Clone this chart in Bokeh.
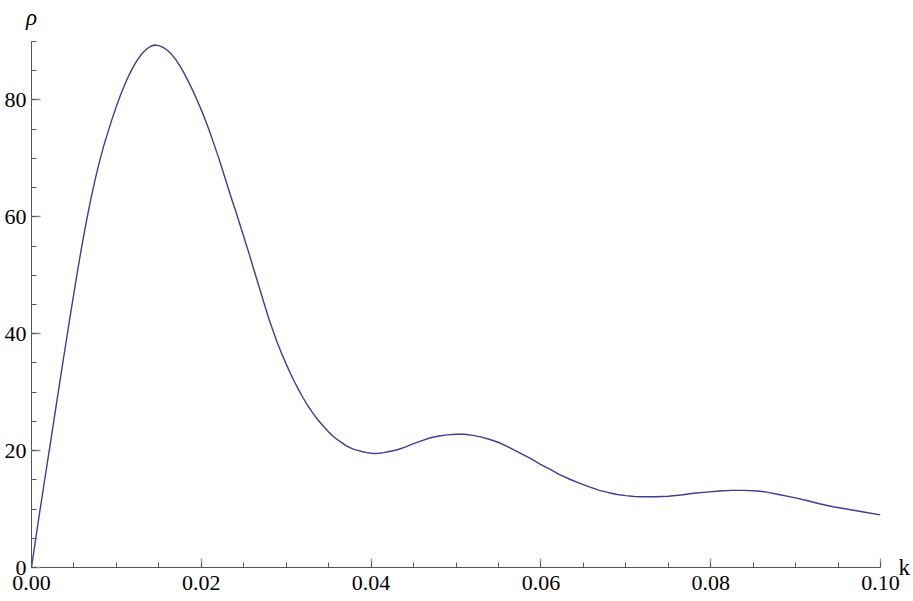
from bokeh.plotting import figure
from bokeh.models import FixedTicker, Range1d, LinearAxis, PrintfTickFormatter
from bokeh.embed import file_html
from bokeh.resources import INLINE

# data
k_vals = [0.0000, 0.0005, 0.0010, 0.0015, 0.0020, 0.0025, 0.0030, 0.0035, 0.0040, 0.0045,
          0.0050, 0.0055, 0.0060, 0.0065, 0.0070, 0.0075, 0.0080, 0.0085, 0.0090, 0.0095,
          0.0100, 0.0105, 0.0110, 0.0115, 0.0120, 0.0125, 0.0130, 0.0135, 0.0140, 0.0145,
          0.0150, 0.0155, 0.0160, 0.0165, 0.0170, 0.0175, 0.0180, 0.0185, 0.0190, 0.0195,
          0.0200, 0.0205, 0.0210, 0.0215, 0.0220, 0.0225, 0.0230, 0.0235, 0.0240, 0.0245,
          0.0250, 0.0255, 0.0260, 0.0265, 0.0270, 0.0275, 0.0280, 0.0285, 0.0290, 0.0295,
          0.0300, 0.0305, 0.0310, 0.0315, 0.0320, 0.0325, 0.0330, 0.0335, 0.0340, 0.0345,
          0.0350, 0.0355, 0.0360, 0.0365, 0.0370, 0.0375, 0.0380, 0.0385, 0.0390, 0.0395,
          0.0400, 0.0405, 0.0410, 0.0415, 0.0420, 0.0430, 0.0440, 0.0450, 0.0460,
          0.0470, 0.0480, 0.0490, 0.0500, 0.0510, 0.0520, 0.0530, 0.0540, 0.0552, 0.0563,
          0.0575, 0.0587, 0.0599, 0.0611, 0.0622, 0.0634, 0.0646, 0.0657, 0.0669, 0.0680,
          0.0690, 0.0700, 0.0710, 0.0720, 0.0735, 0.0750, 0.0765, 0.0780, 0.0795, 0.0810,
          0.0825, 0.0840, 0.0855, 0.0866, 0.0880, 0.0897, 0.0912, 0.0928, 0.0944, 0.0960,
          0.0980, 0.1000]
rho_vals = [0.0, 5.0, 9.8, 14.5, 19.2, 23.9, 28.6, 33.3, 37.9, 42.5,
            47.0, 51.4, 55.6, 59.5, 63.1, 66.4, 69.4, 72.1, 74.5, 76.8,
            78.9, 80.9, 82.7, 84.3, 85.7, 86.9, 87.9, 88.65, 89.15, 89.4,
            89.3, 89.0, 88.5, 87.8, 86.9, 85.8, 84.5, 83.1, 81.6, 80.0,
            78.3, 76.5, 74.5, 72.4, 70.3, 68.0, 65.7, 63.4, 61.2, 58.9,
            56.6, 54.3, 51.9, 49.5, 47.1, 44.7, 42.4, 40.3, 38.3, 36.5,
            34.8, 33.2, 31.7, 30.3, 29.0, 27.8, 26.7, 25.7, 24.8, 24.0,
            23.2, 22.5, 21.9, 21.4, 20.9, 20.5, 20.2, 20.0, 19.8, 19.65,
            19.55, 19.5, 19.55, 19.65, 19.8, 20.1, 20.6, 21.2, 21.7,
            22.2, 22.5, 22.7, 22.8, 22.8, 22.6, 22.3, 21.9, 21.3, 20.5,
            19.6, 18.7, 17.7, 16.8, 15.9, 15.1, 14.4, 13.8, 13.2, 12.8,
            12.5, 12.3, 12.15, 12.1, 12.1, 12.2, 12.4, 12.7, 12.9, 13.1,
            13.2, 13.2, 13.1, 12.9, 12.5, 12.0, 11.5, 10.9, 10.4, 10.0,
            9.5, 9.0]

x_major = [0.0, 0.02, 0.04, 0.06, 0.08, 0.10]
x_minor = [i * 0.005 for i in range(21)]
y_major = [0, 20, 40, 60, 80]
y_minor = [i * 5 for i in range(19)]
x_bounds = (0.0, 0.10)
y_bounds = (0.0, 90.0)

x_label = "k"
y_label = "ρ"

FONT = "Times New Roman"
AXIS_COLOR = "#555555"
MAJOR_TICK_COLOR = "#8f8f8f"
LINE_COLOR = "#3d3d99"

W, H = 913, 601

p = figure(width=W, height=H, output_backend="svg", toolbar_location=None,
           x_range=Range1d(*x_bounds), y_range=Range1d(*y_bounds),
           min_border_left=31, min_border_right=32, min_border_top=41,
           min_border_bottom=34)
p.outline_line_color = None
p.grid.visible = False
p.background_fill_color = "white"
p.border_fill_color = "white"

p.line(k_vals, rho_vals, line_color=LINE_COLOR, line_width=1.4)

for ax in (p.xaxis[0], p.yaxis[0]):
    ax.axis_line_color = AXIS_COLOR
    ax.axis_line_width = 1
    ax.major_tick_in = 9
    ax.major_tick_out = 0
    ax.minor_tick_in = 5
    ax.minor_tick_out = 0
    ax.major_tick_line_color = MAJOR_TICK_COLOR
    ax.major_tick_line_width = 1.3
    ax.minor_tick_line_color = AXIS_COLOR
    ax.minor_tick_line_width = 1
    ax.major_label_text_font = FONT
    ax.major_label_text_font_size = "22px"
    ax.major_label_text_color = "black"

p.xaxis[0].ticker = FixedTicker(ticks=x_major, minor_ticks=x_minor)
p.xaxis[0].formatter = PrintfTickFormatter(format="%.2f")
p.xaxis[0].major_label_standoff = 8
p.yaxis[0].ticker = FixedTicker(ticks=y_major, minor_ticks=y_minor)
p.yaxis[0].formatter = PrintfTickFormatter(format="%d")
p.yaxis[0].major_label_standoff = 5


def label_axis(text, pos, style, standoff):
    ax = LinearAxis(ticker=FixedTicker(ticks=[0], minor_ticks=[]),
                    major_label_overrides={0: text},
                    axis_line_color=None, major_tick_line_color=None,
                    minor_tick_line_color=None, major_tick_in=0, major_tick_out=0,
                    minor_tick_in=0, minor_tick_out=0,
                    major_label_standoff=standoff,
                    major_label_text_font=FONT,
                    major_label_text_font_style=style,
                    major_label_text_font_size="23px",
                    major_label_text_color="black")
    p.add_layout(ax, pos)
    return ax


label_axis(x_label, "right", "normal", 18)
label_axis(y_label, "above", "italic", 12)

open("out.html", "w").write(file_html(p, INLINE))
